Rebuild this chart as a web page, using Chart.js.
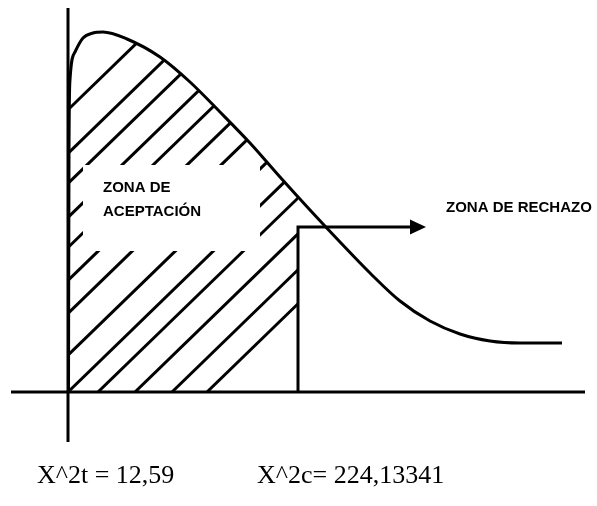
<!DOCTYPE html>
<html>
<head>
<meta charset="utf-8">
<script src="https://cdn.jsdelivr.net/npm/chart.js@4"></script>
<style>
  html, body { margin: 0; padding: 0; background: #fff; }
</style>
</head>
<body>
<canvas id="chiChart" width="597" height="506"></canvas>
<script>
// chi-square curve (sketch units)
const curveX = [0.05, 0.1, 0.2, 0.7, 1.5, 2.5, 3.5, 5.9, 9.2, 12.2, 15.2, 18.2, 21.2, 24.2, 27.2, 30.2, 33.2, 36.2, 39.2, 42.2, 45.2, 49.4];
const curveY = [0, 24.2, 31.2, 34.0, 35.4, 35.9, 36.0, 35.3, 33.5, 31.0, 28.0, 24.9, 21.5, 18.2, 15.0, 11.9, 9.1, 7.1, 5.8, 5.1, 4.9, 4.9];

// critical value and arrow to the rejection zone
const critX = 23.0;
const arrowY = 16.5;
const arrowEndX = 35.8;

// axes extent
const xAxisRange = [-5.7, 51.7];
const yAxisRange = [-5.0, 38.4];

// hatch lines, given by where they cross y = 0
const hatchStarts = [-29.1, -24.6, -21.5, -18.0, -14.9, -11.5, -8.1, -3.8, 0, 3.0, 6.7, 10.4, 13.9];
const hatchSlope = 0.97;

// texts
const acceptLabels = ['ZONA DE', 'ACEPTACIÓN'];
const rejectLabel = 'ZONA DE RECHAZO';
const statLabels = ['X^2t = 12,59', 'X^2c= 224,13341'];

const box = { x0: 1.5, x1: 19.2, y0: 14.1, y1: 22.7 };

const toPoints = (xs, ys) => xs.map((v, i) => ({ x: v, y: ys[i] }));

const sketchPlugin = {
    id: 'sketch',
    afterDatasetsDraw(chart) {
        const { ctx, scales: { x, y } } = chart;
        const px = v => x.getPixelForValue(v);
        const py = v => y.getPixelForValue(v);
        const line = chart.getDatasetMeta(0).dataset;

        // hatching under the curve, left of the critical value
        ctx.save();
        ctx.beginPath();
        ctx.rect(px(0), 0, px(critX) - px(0), py(0));
        ctx.clip();
        ctx.beginPath();
        line.path(ctx);
        ctx.lineTo(px(curveX[curveX.length - 1]), py(0));
        ctx.lineTo(px(curveX[0]), py(0));
        ctx.closePath();
        ctx.clip();
        ctx.strokeStyle = '#000';
        ctx.lineWidth = 3;
        hatchStarts.forEach(b => {
            ctx.beginPath();
            ctx.moveTo(px(b), py(0));
            ctx.lineTo(px(b + 60), py(60 * hatchSlope));
            ctx.stroke();
        });
        ctx.restore();

        // white label box
        ctx.save();
        ctx.fillStyle = '#fff';
        ctx.fillRect(px(box.x0), py(box.y1), px(box.x1) - px(box.x0), py(box.y0) - py(box.y1));

        // arrow head
        const tx = px(arrowEndX), ty = py(arrowY);
        ctx.fillStyle = '#000';
        ctx.beginPath();
        ctx.moveTo(tx, ty);
        ctx.lineTo(tx - 16, ty - 7.5);
        ctx.lineTo(tx - 16, ty + 7.5);
        ctx.closePath();
        ctx.fill();

        // labels
        ctx.font = 'bold 15px "Liberation Sans"';
        ctx.textBaseline = 'middle';
        ctx.textAlign = 'left';
        ctx.fillText(acceptLabels[0], px(3.5), py(20.4));
        ctx.fillText(acceptLabels[1], px(3.5), py(18.0));
        ctx.fillText(rejectLabel, px(37.8), py(18.4));

        ctx.font = '26px "Liberation Serif"';
        ctx.textBaseline = 'alphabetic';
        ctx.fillText(statLabels[0], px(-3.1), py(-9.1));
        ctx.fillText(statLabels[1], px(18.9), py(-9.1));
        ctx.restore();
    }
};

const ctx = document.getElementById('chiChart').getContext('2d');
const chiChart = new Chart(ctx, {
    type: 'line',
    data: {
        datasets: [
            {
                data: toPoints(curveX, curveY),
                borderColor: '#000',
                borderWidth: 3,
                pointRadius: 0,
                cubicInterpolationMode: 'monotone',
                fill: false
            },
            {
                data: [{ x: 0, y: yAxisRange[1] }, { x: 0, y: yAxisRange[0] }],
                borderColor: '#000',
                borderWidth: 3,
                pointRadius: 0
            },
            {
                data: [{ x: xAxisRange[0], y: 0 }, { x: xAxisRange[1], y: 0 }],
                borderColor: '#000',
                borderWidth: 3,
                pointRadius: 0
            },
            {
                data: [{ x: critX, y: 0 }, { x: critX, y: arrowY }, { x: arrowEndX - 1.4, y: arrowY }],
                borderColor: '#000',
                borderWidth: 3,
                borderJoinStyle: 'miter',
                pointRadius: 0
            }
        ]
    },
    options: {
        responsive: false,
        animation: false,
        layout: { padding: 0 },
        plugins: {
            legend: { display: false },
            tooltip: { enabled: false }
        },
        scales: {
            x: { type: 'linear', display: false, min: -6.8, max: 52.9 },
            y: { type: 'linear', display: false, min: -11.4, max: 39.2 }
        }
    },
    plugins: [sketchPlugin]
});
</script>
</body>
</html>
